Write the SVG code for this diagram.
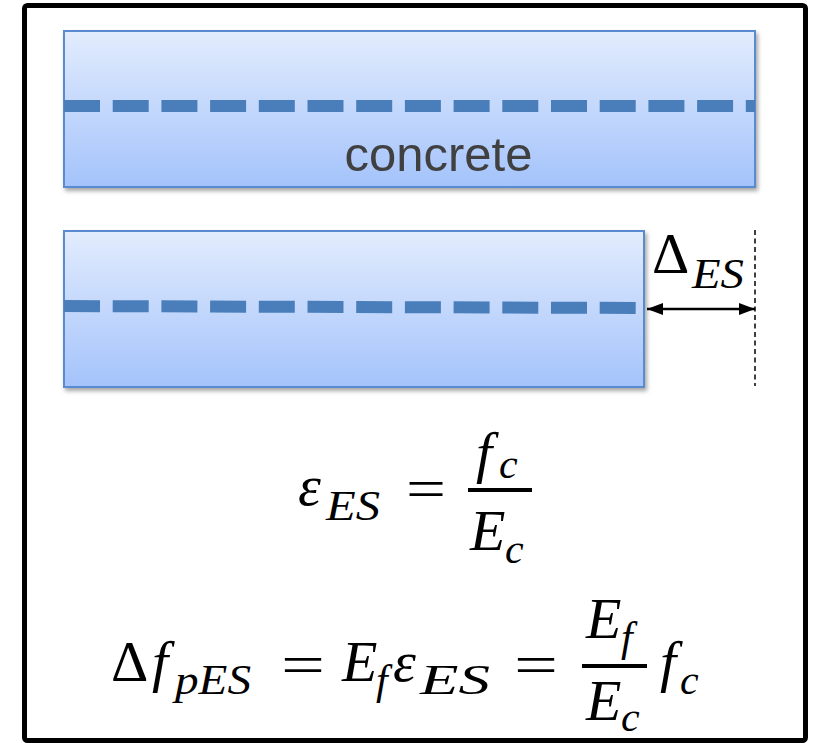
<svg xmlns="http://www.w3.org/2000/svg" width="818" height="743" viewBox="0 0 818 743">
  <defs>
    <linearGradient id="beamGrad" x1="0" y1="0" x2="0" y2="1">
      <stop offset="0" stop-color="#e2ecfd"/>
      <stop offset="1" stop-color="#a4c3fb"/>
    </linearGradient>
    <filter id="shadow" x="-5%" y="-10%" width="110%" height="125%">
      <feDropShadow dx="2" dy="3" stdDeviation="2" flood-color="#000" flood-opacity="0.35"/>
    </filter>
    <marker id="arrowEnd" viewBox="0 0 16 12" refX="16" refY="6" markerWidth="16" markerHeight="12" markerUnits="userSpaceOnUse" orient="auto">
      <path d="M0,0 L16,6 L0,12 Z" fill="#000"/>
    </marker>
    <marker id="arrowStart" viewBox="0 0 16 12" refX="0" refY="6" markerWidth="16" markerHeight="12" markerUnits="userSpaceOnUse" orient="auto">
      <path d="M16,0 L0,6 L16,12 Z" fill="#000"/>
    </marker>
  </defs>
  <style>
    .beam { fill: url(#beamGrad); stroke: #5a8ad0; stroke-width: 2; filter: url(#shadow); }
    .tendon { stroke: #4a7ebb; stroke-width: 12; stroke-dasharray: 36 12.7; fill: none; }
    .label { font-family: "Liberation Sans", Arial, sans-serif; font-size: 49px; fill: #404040; }
    .m { font-family: "Liberation Serif", "Times New Roman", serif; font-style: italic; fill: #000; }
    .mu { font-family: "Liberation Serif", "Times New Roman", serif; font-style: normal; fill: #000; }
    .big { font-size: 58px; }
    .sub { font-size: 42px; }
  </style>

  <rect id="frame" x="24.5" y="5.5" width="781" height="735" rx="3" fill="#fff" stroke="#000" stroke-width="5"/>

  <g id="beam-original">
    <rect class="beam" x="64" y="31" width="691" height="156"/>
    <line class="tendon" x1="64" y1="106" x2="755" y2="106"/>
    <text class="label" x="438.5" y="171" text-anchor="middle">concrete</text>
  </g>

  <g id="beam-shortened">
    <rect class="beam" x="64" y="231" width="580" height="156"/>
    <line class="tendon" x1="64" y1="306" x2="636" y2="308"/>
  </g>

  <g id="connectors">
    <line x1="755" y1="230" x2="755" y2="386" stroke="#000" stroke-width="1.5" stroke-dasharray="5 3.5"/>
    <line x1="647" y1="309" x2="755" y2="309" stroke="#000" stroke-width="2.5" marker-start="url(#arrowStart)" marker-end="url(#arrowEnd)"/>
  </g>

  <g id="label-delta">
    <text class="mu big" x="652" y="273">Δ</text>
    <text class="m sub" x="692" y="288" textLength="52" lengthAdjust="spacingAndGlyphs">ES</text>
  </g>

  <g id="equation-strain">
    <text class="m big" x="298" y="505">ε</text>
    <text class="m sub" x="326" y="520" textLength="54" lengthAdjust="spacingAndGlyphs">ES</text>
    <text class="mu big" x="406" y="508" textLength="40" lengthAdjust="spacingAndGlyphs">=</text>
    <text class="m big" x="476" y="472">f</text>
    <text class="m sub" x="499" y="478">c</text>
    <line x1="468" y1="490" x2="532" y2="490" stroke="#000" stroke-width="4"/>
    <text class="m big" x="470" y="550">E</text>
    <text class="m sub" x="505" y="563">c</text>
  </g>

  <g id="equation-loss">
    <text class="mu big" x="111" y="681">Δ</text>
    <text class="m big" x="152" y="681">f</text>
    <text class="m sub" x="175" y="694" textLength="76" lengthAdjust="spacingAndGlyphs">pES</text>
    <text class="mu big" x="281" y="684" textLength="44" lengthAdjust="spacingAndGlyphs">=</text>
    <text class="m big" x="342" y="681">E</text>
    <text class="m sub" x="376" y="694">f</text>
    <text class="m big" x="393" y="681">ε</text>
    <text class="m sub" x="420" y="694" textLength="70" lengthAdjust="spacingAndGlyphs">ES</text>
    <text class="mu big" x="514" y="684" textLength="44" lengthAdjust="spacingAndGlyphs">=</text>
    <text class="m big" x="586" y="638">E</text>
    <text class="m sub" x="621" y="651">f</text>
    <line x1="582" y1="666" x2="647" y2="666" stroke="#000" stroke-width="4"/>
    <text class="m big" x="586" y="720">E</text>
    <text class="m sub" x="621" y="731">c</text>
    <text class="m big" x="660" y="681">f</text>
    <text class="m sub" x="680" y="694">c</text>
  </g>
</svg>
